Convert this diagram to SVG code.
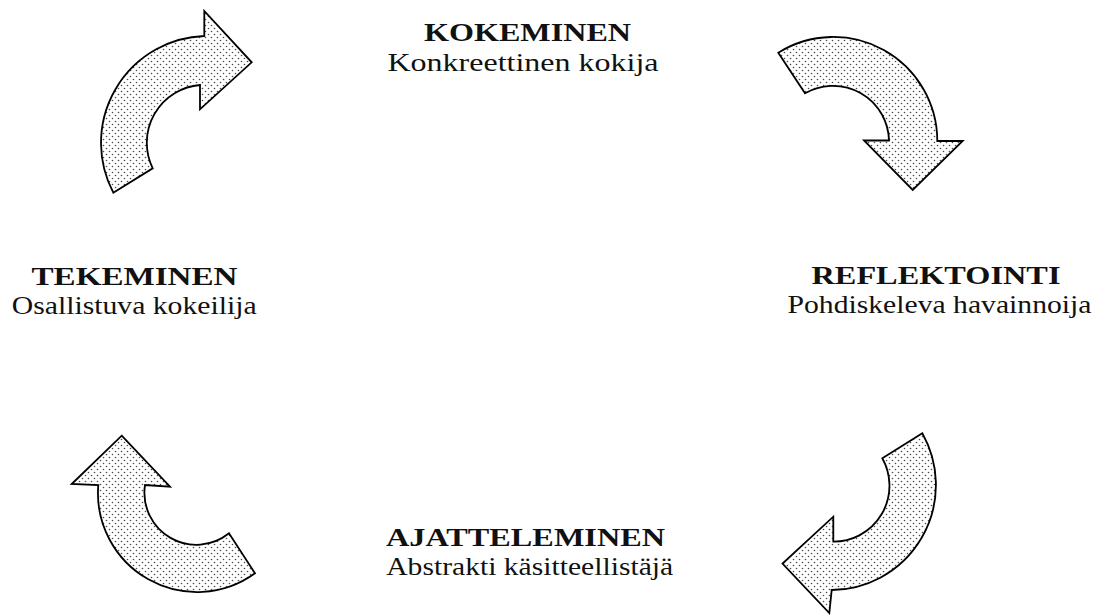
<svg xmlns="http://www.w3.org/2000/svg" width="1104" height="615" viewBox="0 0 1104 615">
<defs>
<pattern id="dots" width="6" height="6" patternUnits="userSpaceOnUse">
<rect width="6" height="6" fill="#ffffff"/>
<circle cx="1.5" cy="1.5" r="0.8" fill="#4a4a4a"/>
<circle cx="4.5" cy="4.5" r="0.8" fill="#4a4a4a"/>
</pattern>
</defs>
<style>
.arrow{fill:url(#dots);stroke:#000;stroke-width:1.8;stroke-linejoin:miter}
.t{font-family:"Liberation Serif","Times New Roman",serif;fill:#111;text-anchor:middle}
.b{font-weight:bold;font-size:25px}
.r{font-size:26px}
</style>
<rect width="1104" height="615" fill="#fff"/>
<g id="connectors">
<path id="arrow-top-left" class="arrow" d="M 204.3,36 A 107 107 0 0 0 113.3,192.7 L 152.7,168.3 A 58 58 0 0 1 200,85 L 200,109.3 L 251.7,62.3 L 204.3,11 Z"/>
<path id="arrow-top-right" class="arrow" d="M 778.3,52.7 A 104 104 0 0 1 937.3,141 L 962.7,141 L 912.7,190 L 864,140.5 L 889,140.5 A 56 56 0 0 0 805,93.3 Z"/>
<path id="arrow-bottom-right" class="arrow" d="M 922.3,433.3 L 882.3,458.3 A 56 56 0 0 1 833.3,541.7 L 833.3,516.7 L 782.5,563.5 L 829.3,613 L 831.7,590 A 105 105 0 0 0 922.3,433.3 Z"/>
<path id="arrow-bottom-left" class="arrow" d="M 121.7,435.7 L 170,486.7 L 145,485 A 52 52 0 0 0 229,533.3 L 255,573.3 A 99 99 0 0 1 98.3,485 L 71.7,484 Z"/>
</g>
<g id="kokeminen">
<text class="t b" x="527.5" y="41" textLength="207" lengthAdjust="spacingAndGlyphs">KOKEMINEN</text>
<text class="t r" x="523" y="71" textLength="271" lengthAdjust="spacingAndGlyphs">Konkreettinen kokija</text>
</g>
<g id="tekeminen">
<text class="t b" x="134.5" y="284.5" textLength="206" lengthAdjust="spacingAndGlyphs">TEKEMINEN</text>
<text class="t r" x="134.2" y="313.5" textLength="245" lengthAdjust="spacingAndGlyphs">Osallistuva kokeilija</text>
</g>
<g id="reflektointi">
<text class="t b" x="936" y="284" textLength="249" lengthAdjust="spacingAndGlyphs">REFLEKTOINTI</text>
<text class="t r" x="939.5" y="313" textLength="304" lengthAdjust="spacingAndGlyphs">Pohdiskeleva havainnoija</text>
</g>
<g id="ajatteleminen">
<text class="t b" x="525.5" y="545.5" textLength="279" lengthAdjust="spacingAndGlyphs">AJATTELEMINEN</text>
<text class="t r" x="529.7" y="574.5" textLength="287" lengthAdjust="spacingAndGlyphs">Abstrakti käsitteellistäjä</text>
</g>
</svg>
